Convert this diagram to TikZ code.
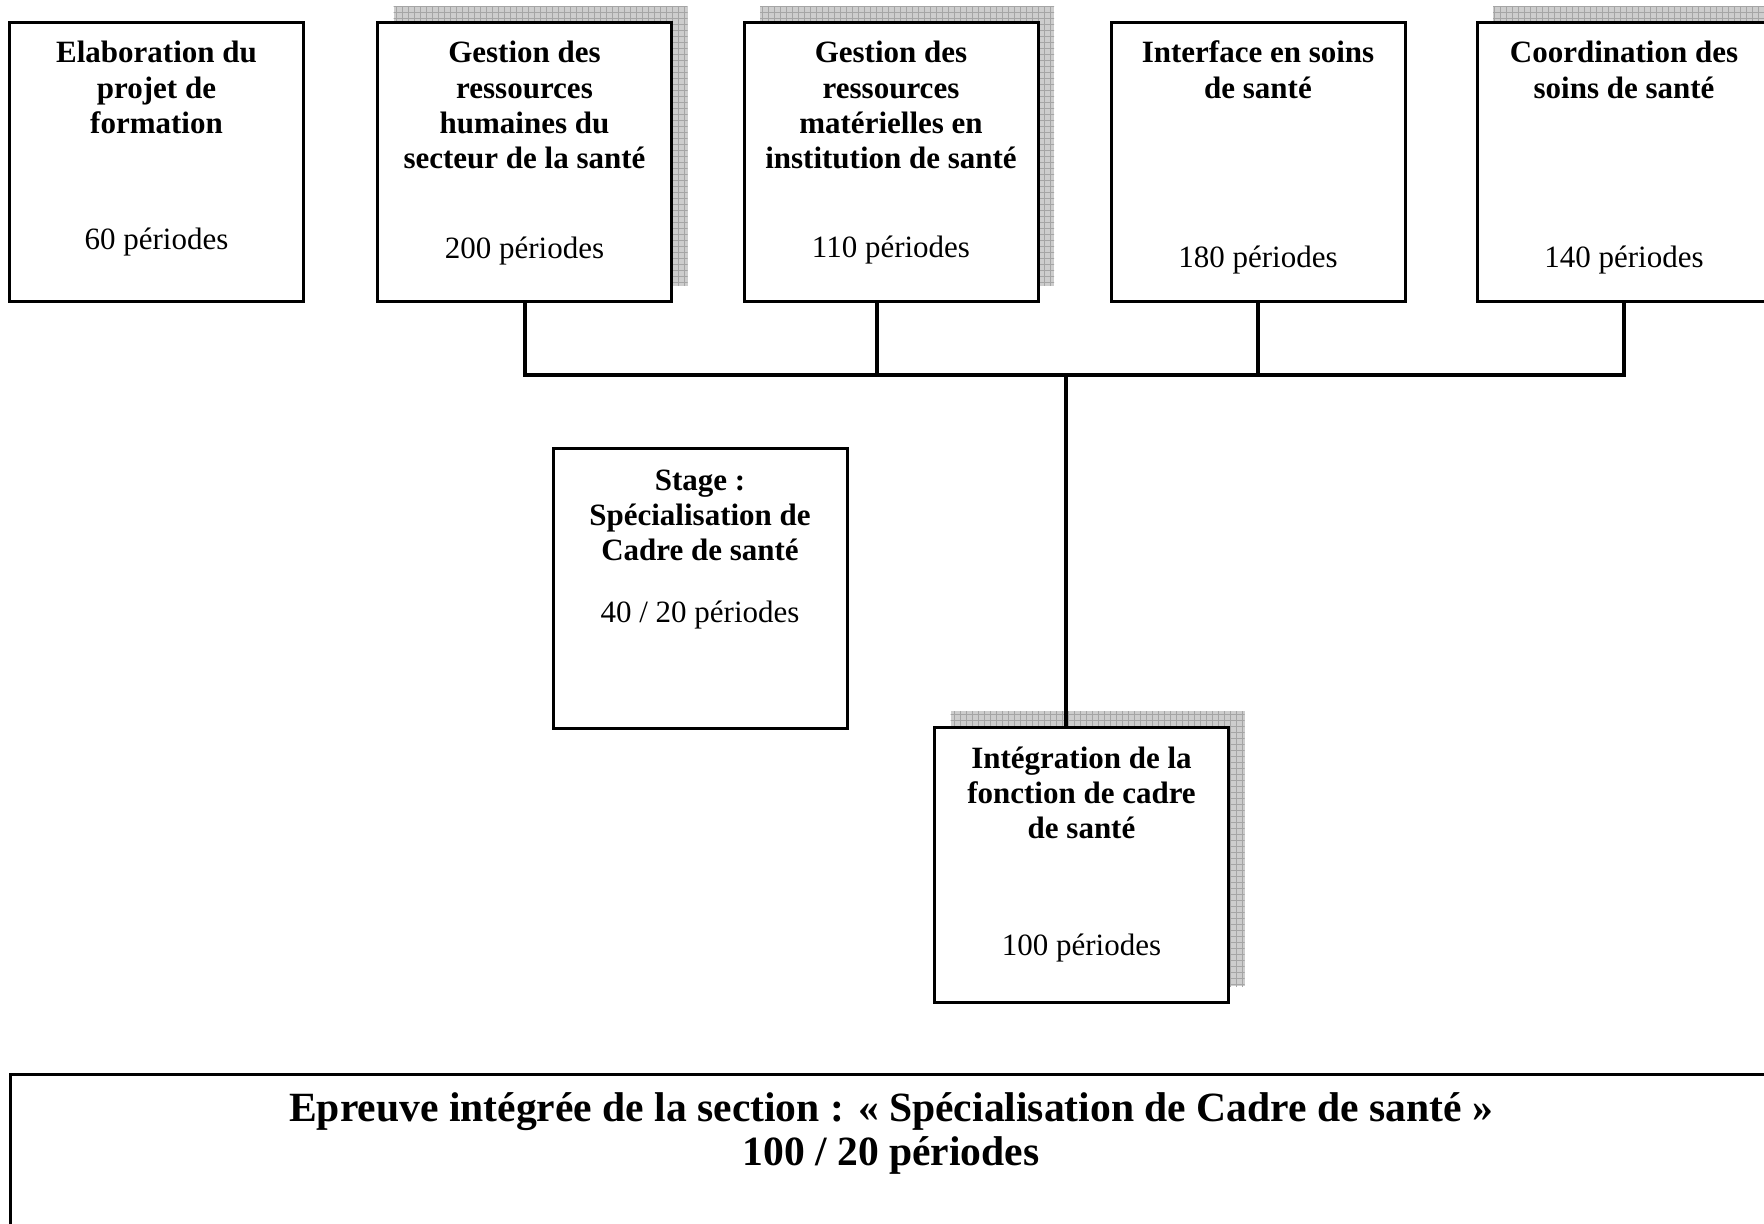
\documentclass[tikz,border=0pt]{standalone}
\usepackage{fontspec}
\setmainfont{Liberation Serif}
\usetikzlibrary{backgrounds}
\newcommand{\mylines}[1]{\begin{tabular}[t]{@{}c@{}}#1\end{tabular}}
\begin{document}
\begin{tikzpicture}[x=0.5pt,y=-0.5pt,
  box/.style={draw=black, line width=1.5pt, fill=white, inner sep=0pt, outer sep=0pt,
              minimum width=147pt, minimum height=139.5pt},
  ttl/.style={anchor=base, inner sep=0pt, font=\fontsize{15.5}{17.6}\selectfont\bfseries},
  per/.style={anchor=base, inner sep=0pt, font=\fontsize{15.5}{17.6}\selectfont},
  big/.style={anchor=base, inner sep=0pt, font=\fontsize{20.8}{22}\selectfont\bfseries},
  conn/.style={draw=black, line width=2pt},
  shfill/.style={fill={rgb,255:red,205;green,205;blue,205}},
  shgrid/.style={draw={rgb,255:red,165;green,165;blue,165}, line width=0.35pt}
]
\useasboundingbox (0,0) rectangle (1764,1224);
\clip (0,0) rectangle (1764,1224);

% boxes
\node[box] (b1) at (156.5,162.5) {};
\node[box] (b2) at (524.5,162.5) {};
\node[box] (b3) at (891,162.5) {};
\node[box] (b4) at (1258,162.5) {};
\node[box] (b5) at (1624,162.5) {};
\node[box, minimum height=140pt] (bs) at (700,588) {};
\node[box, minimum height=137.5pt] (b6) at (1081.5,864.5) {};

% shadows
\begin{scope}[on background layer]
  \foreach \b in {b2,b3,b5,b6}{
    \path[shfill] ([xshift=8pt,yshift=8pt]\b.south west) rectangle ([xshift=8pt,yshift=8pt]\b.north east);
    \begin{scope}
      \clip ([xshift=8pt,yshift=8pt]\b.south west) rectangle ([xshift=8pt,yshift=8pt]\b.north east);
      \draw[shgrid, step=3pt] ([xshift=6pt,yshift=6pt]\b.south west) grid ([xshift=10pt,yshift=10pt]\b.north east);
    \end{scope}
  }
\end{scope}

% texts
\node[ttl] (t1) at (156.5,63) {\mylines{Elaboration du\\projet de\\formation}};
\node[per] (n1) at (156.5,250) {60 périodes};
\node[ttl] (t2) at (524.5,63) {\mylines{Gestion des\\ressources\\humaines du\\secteur de la santé}};
\node[per] (n2) at (524.5,259) {200 périodes};
\node[ttl] (t3) at (891,63) {\mylines{Gestion des\\ressources\\matérielles en\\institution de santé}};
\node[per] (n3) at (891,258) {110 périodes};
\node[ttl] (t4) at (1258,63) {\mylines{Interface en soins\\de santé}};
\node[per] (n4) at (1258,268) {180 périodes};
\node[ttl] (t5) at (1624,63) {\mylines{Coordination des\\soins de santé}};
\node[per] (n5) at (1624,268) {140 périodes};
\node[ttl] (ts) at (700,490) {\mylines{Stage :\\Spécialisation de\\Cadre de santé}};
\node[per] (ns) at (700,622) {40 / 20 périodes};
\node[ttl] (t6) at (1081.5,768) {\mylines{Intégration de la\\fonction de cadre\\de santé}};
\node[per] (n6) at (1081.5,955) {100 périodes};

% connectors
\coordinate (bar) at (0,375);
\draw[conn] (b2.south) -- (b2.south |- bar) -- (b5.south |- bar) -- (b5.south);
\draw[conn] ([xshift=-7pt]b3.south) -- ([xshift=-7pt]b3.south |- bar);
\draw[conn] (b4.south) -- (b4.south |- bar);
\coordinate (drop) at (1066,375);
\draw[conn] (drop) -- (drop |- b6.north);

% bottom box
\node[draw=black, line width=1.5pt, inner sep=0pt, minimum width=900pt, minimum height=100pt, anchor=north west] (bb) at (9,1073) {};
\node[big] (tb) at (891,1121) {\mylines{Epreuve intégrée de la section : « Spécialisation de Cadre de santé »\\100 / 20 périodes}};
\end{tikzpicture}
\end{document}
